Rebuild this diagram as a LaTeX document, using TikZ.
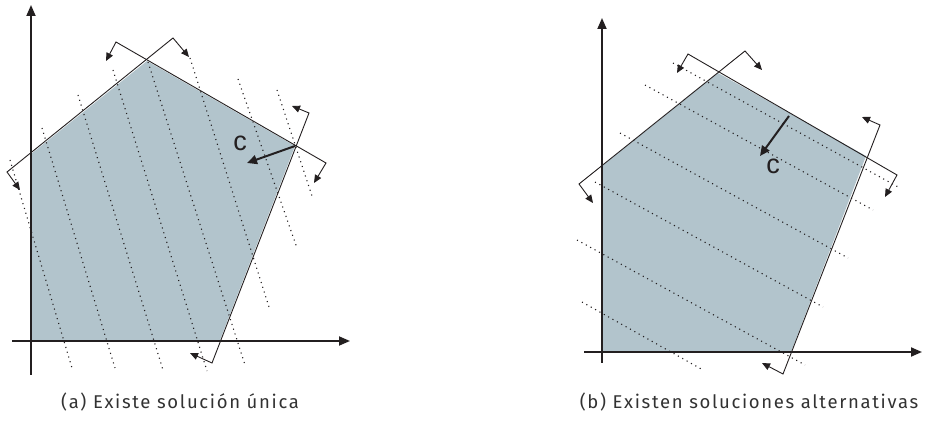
\documentclass[tikz,border=0pt]{standalone}
\usepackage{fontspec}
\setmainfont{Fira Sans}
\newfontfamily\labelfont{Liberation Sans}
\newfontfamily\capfont[LetterSpace=9]{Fira Sans}
\usetikzlibrary{arrows.meta}
\definecolor{feas}{RGB}{178,196,204}
\definecolor{ink}{RGB}{35,31,32}
\definecolor{captxt}{RGB}{50,50,50}
\tikzset{
  axis/.style={ink,line width=1.8pt,-{Triangle[length=11pt,width=9pt]}},
  bound/.style={ink,line width=0.9pt,{Triangle[length=8pt,width=7pt]}-{Triangle[length=8pt,width=7pt]}},
  iso/.style={ink,line width=1.1pt,dash pattern=on 1.1pt off 3.9pt},
  cvec/.style={ink,line width=2pt,-{Triangle[length=10pt,width=9pt]}},
  clabel/.style={ink,font=\labelfont\fontsize{27}{27}\selectfont,inner sep=0pt},
  caption/.style={captxt,font=\capfont\fontsize{18.5}{20}\selectfont,inner sep=0pt}
}
\begin{document}
\begin{tikzpicture}[x=1pt,y=-1pt]
\useasboundingbox (0,0) rectangle (927,430);
% ---------------- left panel ----------------
\fill[feas] (31,340) -- (31,154) -- (147,61) -- (295,146) -- (220,340) -- cycle;
\foreach \a/\b in {{10,160}/{72,368},{42,128}/{115,368},{78,95}/{163,370},{113,70}/{207,371},{148,62}/{245,365},{190,58}/{269,307},{238,79}/{297,248},{277,90}/{313,199}}
  \draw[iso] (\a) -- (\b);
\draw[bound] (20,190) -- (7,172) -- (173,38) -- (189,57);
\draw[bound] (106,61) -- (116,42) -- (326,163) -- (314,183);
\draw[bound] (292,106) -- (309,113) -- (212,363) -- (190,353);
\coordinate (La) at (295,146);
\coordinate (Lb) at (247,163);
\draw[cvec] (La) -- (Lb);
\node[clabel] (Lc) at (240,143) {c};
\coordinate (Ly0) at (31,375);
\coordinate (Ly1) at (31,5);
\coordinate (Lx0) at (12,341);
\coordinate (Lx1) at (350,341);
\draw[axis] (Ly0) -- (Ly1);
\draw[axis] (Lx0) -- (Lx1);
\node[caption] (capa) at (180,402) {(a) Existe solución única};
% ---------------- right panel ----------------
\fill[feas] (602,352) -- (602,166) -- (718,73) -- (866,156) -- (791,352) -- cycle;
\foreach \a/\b in {{673,63}/{900,188},{645,85}/{873,210},{620,133}/{848,258},{595,182}/{823,307},{577,240}/{805,365},{582,302}/{703,370}}
  \draw[iso] (\a) -- (\b);
\draw[bound] (593,203) -- (579,184) -- (745,51) -- (762,70);
\draw[bound] (677,73) -- (688,54) -- (897,175) -- (885,197);
\draw[bound] (862,117) -- (880,125) -- (783,374) -- (762,363);
\coordinate (Ra) at (789,116);
\coordinate (Rb) at (760,156);
\draw[cvec] (Ra) -- (Rb);
\node[clabel] (Rc) at (773,166) {c};
\coordinate (Ry0) at (602,363);
\coordinate (Ry1) at (602,18);
\coordinate (Rx0) at (584,352);
\coordinate (Rx1) at (922,352);
\draw[axis] (Ry0) -- (Ry1);
\draw[axis] (Rx0) -- (Rx1);
\node[caption] (capb) at (749,402) {(b) Existen soluciones alternativas};
\end{tikzpicture}
\end{document}
